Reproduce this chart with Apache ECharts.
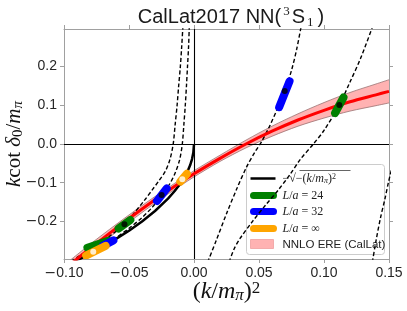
<!DOCTYPE html>
<html><head><meta charset="utf-8">
<script src="https://cdn.jsdelivr.net/npm/echarts@6/dist/echarts.min.js"></script>
<style>html,body{margin:0;padding:0;background:#fff}#c{width:407px;height:311px}</style>
</head><body><div id="c"></div>
<script>
// ---- axes ----
const xTicks = [-0.10, -0.05, 0.00, 0.05, 0.10, 0.15];
const yTicks = [-0.2, -0.1, 0.0, 0.1, 0.2];
const xRange = [-0.10, 0.15];
const yRange = [-0.297, 0.297];

// ---- NNLO ERE (CalLat) band ----
const ereX       = [-0.10, -0.09, -0.08, -0.06, -0.04, -0.02, 0.00, 0.02, 0.04, 0.06, 0.08, 0.10, 0.12, 0.14, 0.15];
const ereCentral = [-0.325, -0.297, -0.270, -0.218, -0.168, -0.121, -0.077, -0.037, 0.000, 0.033, 0.062, 0.087, 0.109, 0.127, 0.136];
const ereLow     = [-0.337, -0.308, -0.281, -0.228, -0.177, -0.129, -0.085, -0.045, -0.010, 0.020, 0.046, 0.067, 0.085, 0.099, 0.106];
const ereHigh    = [-0.313, -0.286, -0.259, -0.208, -0.159, -0.113, -0.069, -0.029, 0.010, 0.046, 0.078, 0.107, 0.133, 0.155, 0.166];

// ---- -sqrt(-(k/mpi)^2) ----
const boundX = [-0.092, -0.09, -0.08, -0.07, -0.06, -0.05, -0.04, -0.03, -0.02, -0.015, -0.01, -0.007, -0.005, -0.003, -0.0015, -0.0005, 0.0];
const boundY = [-0.303, -0.300, -0.283, -0.265, -0.245, -0.224, -0.200, -0.173, -0.141, -0.122, -0.100, -0.084, -0.071, -0.055, -0.039, -0.022, 0.000];

// ---- Luscher curves (dashed) ----
const luscher24Bound = [[-0.0085,0.305],[-0.0095,0.25],[-0.0105,0.20],[-0.0118,0.15],[-0.013,0.10],[-0.0145,0.05],[-0.016,0.0],[-0.0185,-0.04],[-0.022,-0.07],[-0.027,-0.095],[-0.032,-0.118],[-0.038,-0.145],[-0.046,-0.178],[-0.0535,-0.207],[-0.065,-0.238],[-0.077,-0.265],[-0.090,-0.293],[-0.096,-0.305]];
const luscher32Bound = [[-0.0036,0.305],[-0.0042,0.25],[-0.0050,0.20],[-0.0058,0.15],[-0.0067,0.10],[-0.0078,0.05],[-0.009,0.0],[-0.011,-0.04],[-0.0145,-0.075],[-0.0185,-0.102],[-0.0245,-0.132],[-0.032,-0.163],[-0.040,-0.19],[-0.050,-0.218],[-0.060,-0.242],[-0.066,-0.256],[-0.080,-0.284],[-0.092,-0.305]];
const luscher32Scat1 = [[0.0105,-0.305],[0.017,-0.25],[0.025,-0.18],[0.033,-0.115],[0.0405,-0.059],[0.047,-0.02],[0.052,0.006],[0.058,0.045],[0.064,0.09],[0.0698,0.137],[0.075,0.19],[0.079,0.245],[0.0825,0.305]];
const luscher24Scat1 = [[0.027,-0.305],[0.031,-0.27],[0.0354,-0.244],[0.045,-0.2],[0.055,-0.158],[0.065,-0.118],[0.074,-0.078],[0.0815,-0.041],[0.0918,0.0],[0.100,0.035],[0.1118,0.1008],[0.120,0.16],[0.128,0.22],[0.1376,0.305]];
const luscher32Scat2 = [[0.1372,-0.305],[0.140,-0.25],[0.1435,-0.19],[0.147,-0.14],[0.1495,-0.10],[0.152,-0.065]];

// ---- lattice results: uncertainty ellipses (end points along major axis) and centres ----
const l24Ellipses = [[0.1085,0.080,0.1150,0.120],[-0.058,-0.218,-0.049,-0.196],[-0.082,-0.268,-0.066,-0.250]];
const l24Centres  = [[0.1118,0.1008],[-0.0535,-0.207]];
const l32Ellipses = [[0.0655,0.095,0.0735,0.162],[-0.0285,-0.147,-0.021,-0.115],[-0.070,-0.263,-0.062,-0.249]];
const l32Centres  = [[0.0698,0.137],[-0.0249,-0.132]];
const linfEllipses = [[-0.0105,-0.097,-0.0055,-0.077],[-0.083,-0.288,-0.068,-0.263]];
const linfCentres  = [[-0.009,-0.091],[-0.0775,-0.278]];

// ---- build ----
const zip = (xs, ys) => xs.map((x, i) => [x, ys[i]]);
const SPINE = '#a0a0a0';
const SANS = 'Liberation Sans, Arial, sans-serif';
const SERIF = 'Liberation Serif, Times New Roman, serif';

function tickFmt(digits) {
  return v => {
    const s = Math.abs(v).toFixed(digits);
    return v < -1e-9 ? '{m|\u2212}' + s : s;
  };
}
const labelRich = { m: { fontFamily: 'DejaVu Sans', fontSize: 14, color: '#262626' } };

function segRender(color, width) {
  return function (params, api) {
    const p1 = api.coord([api.value(0), api.value(1)]);
    const p2 = api.coord([api.value(2), api.value(3)]);
    return { type: 'line', shape: { x1: p1[0], y1: p1[1], x2: p2[0], y2: p2[1] },
             style: { stroke: color, lineWidth: width, lineCap: 'round' } };
  };
}
function bandRender(params, api) {
  const pts = [];
  ereX.forEach((x, i) => pts.push(api.coord([x, ereHigh[i]])));
  for (let i = ereX.length - 1; i >= 0; i--) pts.push(api.coord([ereX[i], ereLow[i]]));
  return { type: 'polygon', shape: { points: pts }, style: { fill: 'rgba(255,0,0,0.3)' } };
}
function dashed(name, data) {
  return { name, type: 'line', data, smooth: 0.3, symbol: 'none', clip: true, z: 3,
           lineStyle: { color: '#000', width: 1.4, type: [4, 2.4] } };
}
function mathRich(big, small) {
  return {
    r: { fontFamily: SERIF, fontSize: big, color: '#111', lineHeight: 24 },
    i: { fontFamily: SERIF, fontSize: big, fontStyle: 'italic', color: '#111', lineHeight: 24 },
    s: { fontFamily: SERIF, fontSize: small, color: '#111', verticalAlign: 'bottom', lineHeight: 18 },
    t: { fontFamily: SERIF, fontSize: small, fontStyle: 'italic', color: '#111', verticalAlign: 'bottom', lineHeight: 18 },
    p: { fontFamily: SERIF, fontSize: small, color: '#111', verticalAlign: 'top', lineHeight: 24 }
  };
}

const chart = echarts.init(document.getElementById('c'), null, { renderer: 'canvas' });
chart.setOption({
  animation: false,
  backgroundColor: '#fff',
  title: {
    text: '{a|CalLat2017 NN(}{p|3}{s|S}{b|1}{a|)}',
    left: 226, top: 0, textAlign: 'center',
    textStyle: {
      fontWeight: 'normal',
      rich: {
        a: { fontFamily: SANS, fontSize: 20, fontWeight: 'normal', color: '#1a1a1a', lineHeight: 24 },
        s: { fontFamily: SANS, fontSize: 20, fontWeight: 'normal', color: '#1a1a1a', lineHeight: 24, padding: [0, 1, 0, 1] },
        p: { fontFamily: SERIF, fontSize: 13, fontWeight: 'normal', color: '#1a1a1a', verticalAlign: 'top', lineHeight: 22, padding: [0, 1, 0, 2] },
        b: { fontFamily: SERIF, fontSize: 13, fontWeight: 'normal', color: '#1a1a1a', verticalAlign: 'bottom', lineHeight: 13, padding: [0, 4, 0, 1] }
      }
    }
  },
  grid: { left: 64, top: 29, width: 325, height: 230, containLabel: false, outerBoundsMode: 'none' },
  xAxis: [{
    type: 'value', min: xRange[0], max: xRange[1], position: 'bottom',
    name: '{r|(}{i|k}{r|/}{i|m}{t|π}{r|)}{p|2}', nameLocation: 'middle', nameGap: 21, nameMoveOverlap: false,
    nameTextStyle: { rich: mathRich(24, 17) },
    splitLine: { show: false },
    axisLine: { show: true, onZero: false, lineStyle: { color: SPINE, width: 1 } },
    axisTick: { show: true, inside: false, length: 4, customValues: xTicks, lineStyle: { color: SPINE } },
    axisLabel: { customValues: xTicks, margin: 7, fontFamily: SANS, fontSize: 14, color: '#262626',
                 formatter: tickFmt(2), rich: labelRich }
  }, {
    type: 'value', min: xRange[0], max: xRange[1], position: 'top',
    splitLine: { show: false },
    axisLine: { show: true, onZero: false, lineStyle: { color: SPINE, width: 1 } },
    axisTick: { show: true, inside: false, length: 4, customValues: xTicks, lineStyle: { color: SPINE } },
    axisLabel: { show: false }
  }],
  yAxis: [{
    type: 'value', min: yRange[0], max: yRange[1], position: 'left',
    name: '{i|k}{r|cot }{i|δ}{s|0}{r|/}{i|m}{t|π}', nameLocation: 'middle', nameGap: 38, nameRotate: 90, nameMoveOverlap: false,
    nameTextStyle: { rich: mathRich(21, 15) },
    splitLine: { show: false },
    axisLine: { show: true, onZero: false, lineStyle: { color: SPINE, width: 1 } },
    axisTick: { show: true, inside: false, length: 4, customValues: yTicks, lineStyle: { color: SPINE } },
    axisLabel: { customValues: yTicks, margin: 7, fontFamily: SANS, fontSize: 14, color: '#262626',
                 formatter: tickFmt(1), rich: labelRich }
  }, {
    type: 'value', min: yRange[0], max: yRange[1], position: 'right',
    splitLine: { show: false },
    axisLine: { show: true, onZero: false, lineStyle: { color: SPINE, width: 1 } },
    axisTick: { show: true, inside: false, length: 4, customValues: yTicks, lineStyle: { color: SPINE } },
    axisLabel: { show: false }
  }],
  series: [
    { name: 'NNLO ERE (CalLat)', type: 'custom', renderItem: bandRender, data: [0], clip: true, z: 1, silent: true,
      markLine: { silent: true, symbol: 'none', label: { show: false },
                  lineStyle: { color: '#000', width: 1.1, type: 'solid' },
                  data: [{ xAxis: 0 }, { yAxis: 0 }] } },
    { name: 'ERE low', type: 'line', data: zip(ereX, ereLow), smooth: 0.3, symbol: 'none', clip: true, z: 2,
      lineStyle: { color: '#9a7272', width: 0.8 } },
    { name: 'ERE high', type: 'line', data: zip(ereX, ereHigh), smooth: 0.3, symbol: 'none', clip: true, z: 2,
      lineStyle: { color: '#9a7272', width: 0.8 } },
    dashed('L24 bound', luscher24Bound),
    dashed('L32 bound', luscher32Bound),
    dashed('L32 scat1', luscher32Scat1),
    dashed('L24 scat1', luscher24Scat1),
    dashed('L32 scat2', luscher32Scat2),
    { name: '-sqrt', type: 'line', data: zip(boundX, boundY), symbol: 'none', clip: true, z: 4,
      lineStyle: { color: '#000', width: 2.5 } },
    { name: 'ERE central', type: 'line', data: zip(ereX, ereCentral), smooth: 0.3, symbol: 'none', clip: true, z: 5,
      lineStyle: { color: '#ff0000', width: 3 } },
    { name: 'L/a=24', type: 'custom', renderItem: segRender('#008000', 8), data: l24Ellipses, clip: true, z: 6 },
    { name: 'L/a=24 c', type: 'scatter', data: l24Centres, symbolSize: 6, itemStyle: { color: '#000' }, z: 7 },
    { name: 'L/a=32', type: 'custom', renderItem: segRender('#0000ff', 8), data: l32Ellipses, clip: true, z: 8 },
    { name: 'L/a=32 c', type: 'scatter', data: l32Centres, symbolSize: 6, itemStyle: { color: '#000' }, z: 9 },
    { name: 'L/a=inf', type: 'custom', renderItem: segRender('#ffa500', 8), data: linfEllipses, clip: true, z: 10 },
    { name: 'L/a=inf c', type: 'scatter', data: linfCentres, symbolSize: 6, itemStyle: { color: '#fff' }, z: 11 }
  ],
  graphic: { elements: [{
    type: 'group', left: 246, top: 164, z: 100,
    children: [
      { type: 'rect', shape: { x: 0, y: 0, width: 138, height: 90, r: 3 },
        style: { fill: 'rgba(255,255,255,0.8)', stroke: '#cccccc', lineWidth: 1 } },
      { type: 'line', shape: { x1: 4, y1: 14, x2: 29, y2: 14 }, style: { stroke: '#000', lineWidth: 2.5 } },
      { type: 'line', shape: { x1: 7, y1: 31, x2: 27, y2: 31 }, style: { stroke: '#008000', lineWidth: 7, lineCap: 'round' } },
      { type: 'line', shape: { x1: 7, y1: 47, x2: 27, y2: 47 }, style: { stroke: '#0000ff', lineWidth: 7, lineCap: 'round' } },
      { type: 'line', shape: { x1: 7, y1: 64, x2: 27, y2: 64 }, style: { stroke: '#ffa500', lineWidth: 7, lineCap: 'round' } },
      { type: 'rect', shape: { x: 4, y: 75, width: 23, height: 9 }, style: { fill: 'rgba(255,0,0,0.3)', stroke: '#f0a0a0', lineWidth: 0.8 } },
      { type: 'text', x: 36, y: 14, style: { text: '{r|\u2212\u221A\u2212(}{i|k}{r|/}{i|m}{s|π}{r|)}{p|2}', verticalAlign: 'middle',
        rich: { r: { fontFamily: SERIF, fontSize: 12, fill: '#222' }, i: { fontFamily: SERIF, fontSize: 12, fontStyle: 'italic', fill: '#222' },
                s: { fontFamily: SERIF, fontSize: 8, fontStyle: 'italic', fill: '#222', verticalAlign: 'bottom' },
                p: { fontFamily: SERIF, fontSize: 8, fill: '#222', verticalAlign: 'top' } } } },
      { type: 'line', shape: { x1: 53, y1: 6, x2: 104, y2: 6 }, style: { stroke: '#222', lineWidth: 0.7 } },
      { type: 'text', x: 36, y: 31, style: { text: '{i|L}{r|/}{i|a}{r| = 24}', verticalAlign: 'middle',
        rich: { r: { fontFamily: SERIF, fontSize: 12, fill: '#222' }, i: { fontFamily: SERIF, fontSize: 12, fontStyle: 'italic', fill: '#222' } } } },
      { type: 'text', x: 36, y: 47, style: { text: '{i|L}{r|/}{i|a}{r| = 32}', verticalAlign: 'middle',
        rich: { r: { fontFamily: SERIF, fontSize: 12, fill: '#222' }, i: { fontFamily: SERIF, fontSize: 12, fontStyle: 'italic', fill: '#222' } } } },
      { type: 'text', x: 36, y: 64, style: { text: '{i|L}{r|/}{i|a}{r| = \u221E}', verticalAlign: 'middle',
        rich: { r: { fontFamily: SERIF, fontSize: 12, fill: '#222' }, i: { fontFamily: SERIF, fontSize: 12, fontStyle: 'italic', fill: '#222' } } } },
      { type: 'text', x: 36, y: 80, style: { text: 'NNLO ERE (CalLat)', verticalAlign: 'middle', fontFamily: SANS, fontSize: 11.5, fill: '#222' } }
    ]
  }] }
});
</script></body></html>
